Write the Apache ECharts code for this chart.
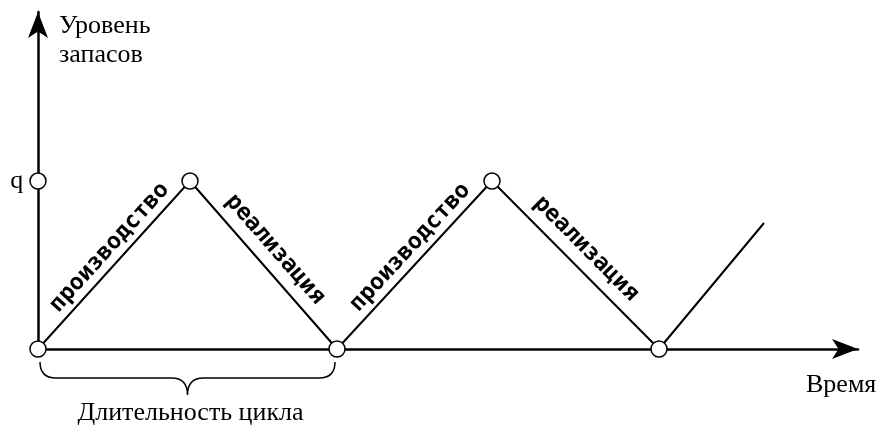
<!DOCTYPE html>
<html>
<head>
<meta charset="utf-8">
<script src="https://cdn.jsdelivr.net/npm/echarts@6/dist/echarts.min.js"></script>
<style>
  html, body { margin: 0; padding: 0; background: #fff; }
  #main { width: 880px; height: 425px; }
</style>
</head>
<body>
<div id="main"></div>
<script>
// данные графика (время в условных единицах, запас в % от q)
var timePts = [0, 15.2, 29.9, 45.4, 62.1, 72.6];
var stockPts = [0, 100, 0, 100, 0, 75];
var segLabels = ['производство', 'реализация', 'производство', 'реализация'];
var qLevel = 100;
var cycleStart = 0, cycleEnd = 29.9;

var chart = echarts.init(document.getElementById('main'));
var serif = '"Liberation Serif", "DejaVu Serif", serif';

var lineData = timePts.map(function (t, i) {
    var last = i === timePts.length - 1;
    return { value: [t, stockPts[i]], symbol: last ? 'none' : 'circle' };
});

var segData = [];
for (var i = 0; i < segLabels.length; i++) {
    segData.push([timePts[i], stockPts[i], timePts[i + 1], stockPts[i + 1], segLabels[i]]);
}

function renderSegLabel(params, api) {
    var p1 = api.coord([api.value(0), api.value(1)]);
    var p2 = api.coord([api.value(2), api.value(3)]);
    var dx = p2[0] - p1[0], dy = p2[1] - p1[1];
    var len = Math.sqrt(dx * dx + dy * dy);
    var theta = Math.atan2(-dy, dx);
    var ux = dx / len, uy = dy / len;
    var nx = -Math.sin(theta), ny = -Math.cos(theta);
    // сдвиг немного к вершине
    var along = dy < 0 ? 10 : -4;
    var off = dy < 0 ? 15 : 19;
    var mx = (p1[0] + p2[0]) / 2 + ux * along + nx * off;
    var my = (p1[1] + p2[1]) / 2 + uy * along + ny * off;
    return {
        type: 'text',
        x: mx,
        y: my,
        rotation: theta,
        style: {
            text: segLabels[params.dataIndex],
            textAlign: 'center',
            textVerticalAlign: 'middle',
            font: 'bold 23px "DejaVu Sans Mono", monospace',
            fill: '#000'
        }
    };
}

function renderBrace(params, api) {
    var a = api.coord([api.value(0), 0]);
    var b = api.coord([api.value(1), 0]);
    var x1 = a[0] + 2, x2 = b[0] - 2, mid = (x1 + x2) / 2;
    var y0 = a[1] + 13, yh = a[1] + 29, yt = a[1] + 46, r = 16;
    var d = 'M' + x1 + ',' + y0 +
        ' Q' + x1 + ',' + yh + ' ' + (x1 + r) + ',' + yh +
        ' L' + (mid - r) + ',' + yh +
        ' Q' + mid + ',' + yh + ' ' + mid + ',' + yt +
        ' Q' + mid + ',' + yh + ' ' + (mid + r) + ',' + yh +
        ' L' + (x2 - r) + ',' + yh +
        ' Q' + x2 + ',' + yh + ' ' + x2 + ',' + y0;
    return {
        type: 'group',
        children: [{
            type: 'path',
            shape: { pathData: d },
            style: { fill: null, stroke: '#000', lineWidth: 1.5 }
        }, {
            type: 'text',
            x: mid + 3,
            y: yt + 18,
            style: {
                text: 'Длительность цикла',
                textAlign: 'center',
                textVerticalAlign: 'middle',
                font: '26px ' + serif,
                fill: '#000'
            }
        }]
    };
}

var axisCommon = {
    type: 'value',
    axisLine: {
        show: true,
        symbol: ['none', 'arrow'],
        symbolSize: [15, 26],
        lineStyle: { color: '#000', width: 2.5 }
    },
    axisTick: { show: false },
    axisLabel: { show: false },
    splitLine: { show: false }
};

var option = {
    animation: false,
    backgroundColor: '#fff',
    grid: { left: 38, right: 22, top: 12, bottom: 76 },
    xAxis: Object.assign({}, axisCommon, { min: 0, max: 82 }),
    yAxis: Object.assign({}, axisCommon, { min: 0, max: 200.6 }),
    graphic: [{
        type: 'text', left: 59, top: 12,
        style: { text: 'Уровень\nзапасов', font: '26px ' + serif, lineHeight: 29, fill: '#000' }
    }, {
        type: 'text', left: 806, top: 372,
        style: { text: 'Время', font: '26px ' + serif, fill: '#000' }
    }],
    series: [{
        type: 'line',
        data: lineData,
        symbolSize: 16,
        lineStyle: { color: '#000', width: 2 },
        itemStyle: { color: '#fff', borderColor: '#000', borderWidth: 1.5 },
        clip: false,
        z: 3
    }, {
        type: 'scatter',
        data: [[0, qLevel]],
        symbolSize: 16,
        itemStyle: { color: '#fff', borderColor: '#000', borderWidth: 1.5, opacity: 1 },
        label: {
            show: true, position: 'left', distance: 6,
            formatter: 'q', fontFamily: serif, fontSize: 26, color: '#000'
        },
        clip: false,
        z: 4
    }, {
        type: 'custom',
        data: segData,
        encode: { x: [0, 2], y: [1, 3] },
        renderItem: renderSegLabel,
        clip: false,
        z: 2
    }, {
        type: 'custom',
        data: [[cycleStart, cycleEnd]],
        encode: { x: [0, 1] },
        renderItem: renderBrace,
        clip: false,
        z: 2
    }]
};
chart.setOption(option);
</script>
</body>
</html>
